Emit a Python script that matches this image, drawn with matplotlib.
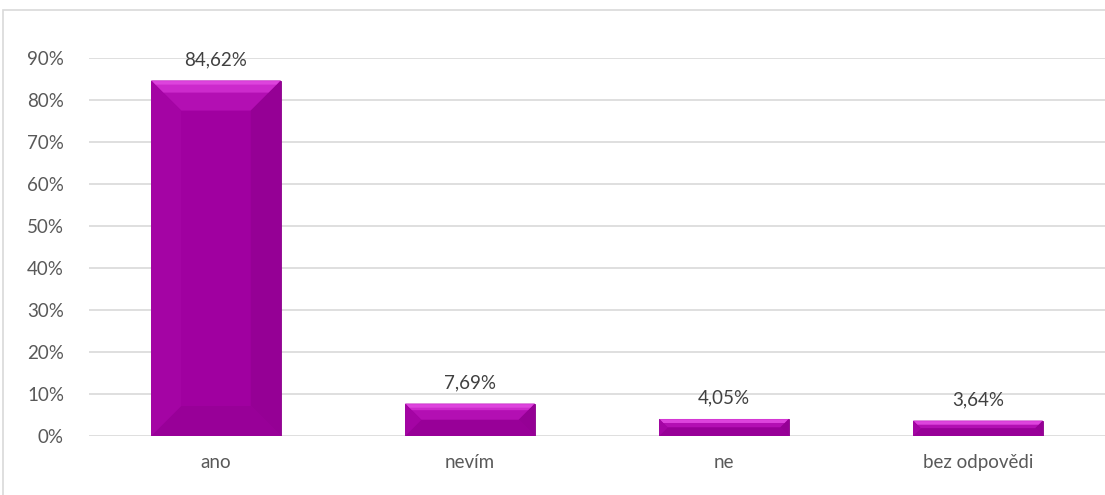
import matplotlib.pyplot as plt
from matplotlib.patches import Polygon, Rectangle

kategorie = ["ano", "nevím", "ne", "bez odpovědi"]
hodnoty = [84.62, 7.69, 4.05, 3.64]
popisky = ["84,62%", "7,69%", "4,05%", "3,64%"]
y_ticky = [0, 10, 20, 30, 40, 50, 60, 70, 80, 90]

plt.rcParams['font.family'] = ['Lato', 'DejaVu Sans']
sediva = '#595959'

fig = plt.figure(figsize=(11.05, 4.95), dpi=100)
ax = fig.add_axes([89 / 1105, 59 / 495, 1 - 89 / 1105, 378 / 495])

# ramecek grafu (vpravo a dole orizly)
fig.patches.append(Rectangle((3 / 1105, -0.1), 1.2, (495 - 10) / 495 + 0.1,
                             transform=fig.transFigure, fill=False,
                             edgecolor='#D9D9D9', linewidth=1.2, zorder=0))

x = range(len(kategorie))
sirka = 0.51
bars = ax.bar(x, hodnoty, width=sirka, color='#A000A0', zorder=3,
              edgecolor='#8A008A', linewidth=0.6)

ax.set_xlim(-0.5, len(kategorie) - 0.5)
ax.set_ylim(0, 90)
ax.set_yticks(y_ticky)
ax.set_yticklabels([f"{t}%" for t in y_ticky])
ax.set_xticks(list(x))
ax.set_xticklabels(kategorie)
ax.tick_params(axis='both', length=0, labelsize=13.5, colors=sediva)
ax.tick_params(axis='y', pad=18)
ax.tick_params(axis='x', pad=13)
ax.grid(axis='y', color='#D9D9D9', linewidth=1.2, zorder=0)
for s in ax.spines.values():
    s.set_visible(False)

# zkoseni hran sloupcu (bevel) - hloubka v pixelech
fig.canvas.draw()
inv = ax.transData.inverted()
for bar in bars:
    x0, y0 = ax.transData.transform((bar.get_x(), 0))
    x1, y1 = ax.transData.transform((bar.get_x() + bar.get_width(), bar.get_height()))
    d = min(30, (y1 - y0) / 2)
    b = d
    pts = lambda p: [tuple(inv.transform(q)) for q in p]
    # horni
    ax.add_patch(Polygon(pts([(x0, y1), (x1, y1), (x1 - b, y1 - d), (x0 + b, y1 - d)]),
                         color='#B30FB3', zorder=4, lw=0))
    ax.add_patch(Polygon(pts([(x0, y1), (x1, y1), (x1 - b * 0.4, y1 - d * 0.4), (x0 + b * 0.4, y1 - d * 0.4)]),
                         color='#CC2ACC', zorder=4, lw=0))
    ax.add_patch(Polygon(pts([(x0 + 1, y1 - 0.5), (x1 - 1, y1 - 0.5), (x1 - 4, y1 - 4), (x0 + 4, y1 - 4)]),
                         color='#DD44DD', zorder=4, lw=0))
    # pravy
    ax.add_patch(Polygon(pts([(x1, y1), (x1, y0), (x1 - b, y0 + d), (x1 - b, y1 - d)]),
                         color='#950095', zorder=4, lw=0))
    # dolni
    ax.add_patch(Polygon(pts([(x0, y0), (x1, y0), (x1 - b, y0 + d), (x0 + b, y0 + d)]),
                         color='#980098', zorder=4, lw=0))
    # levy
    ax.add_patch(Polygon(pts([(x0, y1), (x0, y0), (x0 + b, y0 + d), (x0 + b, y1 - d)]),
                         color='#A404A4', zorder=4, lw=0))

for bar, txt in zip(bars, popisky):
    ax.annotate(txt, (bar.get_x() + bar.get_width() / 2, bar.get_height()),
                xytext=(0, 9), textcoords='offset points', ha='center', va='bottom',
                fontsize=13.5, color='#404040', zorder=5)

fig.savefig('out.png', dpi=100)
